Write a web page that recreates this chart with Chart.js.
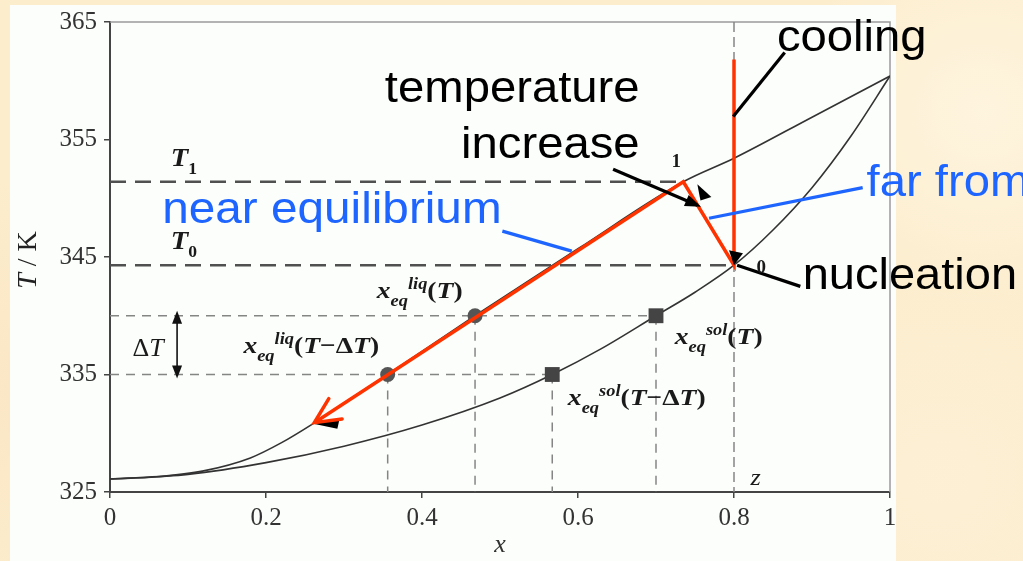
<!DOCTYPE html>
<html>
<head>
<meta charset="utf-8">
<script src="https://cdn.jsdelivr.net/npm/chart.js@4.4.1/dist/chart.umd.min.js"></script>
<style>
  html, body { margin: 0; padding: 0; }
  body {
    width: 1023px; height: 561px; position: relative; overflow: hidden;
    background: #fcedcd;
    background-image:
      radial-gradient(circle at 96% 20%, rgba(255,248,230,0.7), transparent 18%),
      radial-gradient(circle at 3% 70%, rgba(250,226,190,0.6), transparent 20%),
      radial-gradient(circle at 92% 85%, rgba(253,240,214,0.8), transparent 22%);
  }
  #paper { position: absolute; left: 10px; top: 5px; width: 886px; height: 556px; background: #fbfefa; }
  #c { position: absolute; left: 0; top: 0; }
</style>
</head>
<body>
<div id="paper"></div>
<canvas id="c" width="1023" height="561"></canvas>
<script>
// axis ticks
const xTicks = [0, 0.2, 0.4, 0.6, 0.8, 1];
const yTicks = [325, 335, 345, 355, 365];

// liquidus (upper) and solidus (lower) curves
const liqX = [0, 0.06, 0.12, 0.18, 0.22, 0.26, 0.31, 0.356, 0.468, 0.6, 0.735, 0.8, 0.9, 1];
const liqT = [326.1, 326.3, 326.8, 327.9, 329.2, 330.8, 333.0, 335, 340, 345.7, 351.4, 353.4, 356.9, 360.4];
const solX = [0, 0.1, 0.2, 0.3, 0.4, 0.5, 0.567, 0.63, 0.70, 0.75, 0.8, 0.85, 0.9, 0.95, 1];
const solT = [326.1, 326.5, 327.5, 328.9, 330.7, 333.0, 335, 337.2, 340, 342.0, 344.3, 347.3, 350.9, 355.3, 360.4];

// marked equilibrium points at T and T - dT
const liqMarkX = [0.356, 0.468];
const liqMarkT = [335, 340];
const solMarkX = [0.567, 0.70];
const solMarkT = [335, 340];

// levels T1, T0 and overall composition z
const T1 = 351.4;
const T0 = 344.3;
const zX = 0.8;

// red path: cooling -> nucleation (0) -> point 1 -> down the liquidus
const pathX = [0.8, 0.8, 0.735, 0.262];
const pathT = [361.8, 344.3, 351.4, 330.9];

// leader lines for the big labels
const leaders = [
  { xs: [0.799, 0.865], ys: [356.95, 362.4], color: '#000' },   // cooling
  { xs: [0.645, 0.753], ys: [352.46, 349.4], color: '#000' },   // temperature increase
  { xs: [0.768, 0.965], ys: [348.3, 350.9], color: '#1e64ff' }, // far from
  { xs: [0.503, 0.592], ys: [347.2, 345.5], color: '#1e64ff' }, // near equilibrium
  { xs: [0.804, 0.885], ys: [344.3, 342.5], color: '#000' }     // nucleation
];

const pts = (xs, ys) => xs.map((v, i) => ({ x: v, y: ys[i] }));
const SERIF = '"Liberation Serif", "Times New Roman", serif';
const SANS = '"Liberation Sans", Arial, sans-serif';

const longDash = { borderColor: '#505050', borderWidth: 2.5, borderDash: [16, 9] };
const thinDash = { borderColor: '#858585', borderWidth: 1.5, borderDash: [9, 7] };
const line = (data, style, order) => Object.assign({ data, showLine: true, pointRadius: 0, tension: 0, fill: false, order }, style);

const datasets = [];
datasets.push(line(pts(liqX, liqT), { borderColor: '#333', borderWidth: 1.6, cubicInterpolationMode: 'monotone' }, 9));
datasets.push(line(pts(solX, solT), { borderColor: '#333', borderWidth: 1.6, cubicInterpolationMode: 'monotone' }, 9));
// guides
datasets.push(line([{ x: 0, y: T1 }, { x: pathX[2], y: T1 }], longDash, 8));
datasets.push(line([{ x: 0, y: T0 }, { x: zX, y: T0 }], longDash, 8));
datasets.push(line([{ x: 0, y: solMarkT[1] }, { x: solMarkX[1], y: solMarkT[1] }], thinDash, 8));
datasets.push(line([{ x: 0, y: solMarkT[0] }, { x: solMarkX[0], y: solMarkT[0] }], thinDash, 8));
liqMarkX.forEach((v, i) => datasets.push(line([{ x: v, y: liqMarkT[i] }, { x: v, y: 325 }], thinDash, 8)));
solMarkX.forEach((v, i) => datasets.push(line([{ x: v, y: solMarkT[i] }, { x: v, y: 325 }], thinDash, 8)));
datasets.push(line([{ x: zX, y: 365 }, { x: zX, y: 325 }], { borderColor: '#858585', borderWidth: 1.5, borderDash: [10, 5] }, 8));
// markers
datasets.push({ data: pts(liqMarkX, liqMarkT), pointStyle: 'circle', pointRadius: 7.5, pointBackgroundColor: '#555', pointBorderWidth: 0, order: 6 });
datasets.push({ data: pts(solMarkX, solMarkT), pointStyle: 'rect', pointRadius: 10.5, pointBackgroundColor: '#444', pointBorderWidth: 0, order: 6 });
// red path
const redIndex = datasets.length;
datasets.push(line(pts(pathX, pathT), { borderColor: '#ff3300', borderWidth: 3.5, borderJoinStyle: 'miter' }, 4));
// leaders
leaders.forEach(l => datasets.push(line(pts(l.xs, l.ys), { borderColor: l.color, borderWidth: 3.2 }, 2)));

function sx(ctx, str, x, y, font, color, scale, align) {
  ctx.save();
  ctx.font = font;
  ctx.fillStyle = color;
  ctx.textBaseline = 'alphabetic';
  const w = ctx.measureText(str).width * scale;
  ctx.translate(align === 'right' ? x - w : x, y);
  ctx.scale(scale, 1);
  ctx.fillText(str, 0, 0);
  ctx.restore();
}

function rich(ctx, parts, x, y, scale) {
  ctx.save();
  ctx.translate(x, y);
  ctx.scale(scale, 1);
  ctx.fillStyle = '#1a1a1a';
  ctx.textBaseline = 'alphabetic';
  let cx = 0;
  for (const [s, f, dy] of parts) {
    ctx.font = f;
    ctx.fillText(s, cx, dy || 0);
    cx += ctx.measureText(s).width;
  }
  ctx.restore();
}

function tri(ctx, pts) {
  ctx.beginPath();
  ctx.moveTo(pts[0][0], pts[0][1]);
  ctx.lineTo(pts[1][0], pts[1][1]);
  ctx.lineTo(pts[2][0], pts[2][1]);
  ctx.closePath();
  ctx.fill();
}

const BI = 'bold italic 24px ' + SERIF;
const B = 'bold 24px ' + SERIF;
const SBI = 'bold italic 16px ' + SERIF;
const argT = [['(', B], ['T', BI], [')', B]];
const argTdT = [['(', B], ['T', BI], ['\u2212', B], ['\u0394', B], ['T', BI], [')', B]];
const xeq = (sup, arg) => [['x', BI], ['eq', SBI, 8], [sup, SBI, -9]].concat(arg);

const decor = {
  id: 'decor',
  beforeDatasetsDraw(chart) {
    const { ctx, chartArea: a } = chart;
    ctx.save();
    ctx.strokeStyle = '#9a9a9a';
    ctx.lineWidth = 1.5;
    ctx.beginPath();
    ctx.moveTo(a.left, a.top);
    ctx.lineTo(a.right, a.top);
    ctx.lineTo(a.right, a.bottom);
    ctx.stroke();
    ctx.restore();
  },
  afterDatasetsDraw(chart) {
    const { ctx, chartArea: a, scales: { x, y } } = chart;
    const px = v => x.getPixelForValue(v), py = v => y.getPixelForValue(v);
    ctx.save();

    // original black arrow tips
    ctx.fillStyle = '#000';
    tri(ctx, [[px(pathX[3]) - 1, py(pathT[3]) + 1], [px(pathX[3]) + 25, py(pathT[3]) - 3], [px(pathX[3]) + 23, py(pathT[3]) + 6]]);
    tri(ctx, [[px(zX), py(T0)], [px(zX) - 5, py(T0) - 15], [px(zX) + 9, py(T0) - 12]]);
    tri(ctx, [[px(0.771), py(350.1)], [px(0.753), py(351.2)], [px(0.757), py(349.8)]]);

    // red open arrow head at the end of the path
    const m = chart.getDatasetMeta(redIndex).data;
    const tip = m[m.length - 1], prev = m[m.length - 2];
    const ang = Math.atan2(prev.y - tip.y, prev.x - tip.x);
    ctx.strokeStyle = '#ff3300';
    ctx.lineWidth = 3.5;
    ctx.lineCap = 'round';
    ctx.beginPath();
    ctx.moveTo(tip.x + 28 * Math.cos(ang - 0.45), tip.y + 28 * Math.sin(ang - 0.45));
    ctx.lineTo(tip.x, tip.y);
    ctx.lineTo(tip.x + 28 * Math.cos(ang + 0.45), tip.y + 28 * Math.sin(ang + 0.45));
    ctx.stroke();

    // filled head on the "temperature increase" leader
    const l = leaders[1];
    const ex = px(l.xs[1]), ey = py(l.ys[1]);
    const la = Math.atan2(ey - py(l.ys[0]), ex - px(l.xs[0]));
    ctx.fillStyle = '#000';
    tri(ctx, [[ex + 4 * Math.cos(la), ey + 4 * Math.sin(la)],
              [ex - 12 * Math.cos(la) + 6 * Math.sin(la), ey - 12 * Math.sin(la) - 6 * Math.cos(la)],
              [ex - 12 * Math.cos(la) - 6 * Math.sin(la), ey - 12 * Math.sin(la) + 6 * Math.cos(la)]]);

    // delta T double arrow
    const dx = px(0.086);
    ctx.strokeStyle = '#111';
    ctx.lineWidth = 1.6;
    ctx.lineCap = 'butt';
    ctx.beginPath();
    ctx.moveTo(dx, py(340) + 4);
    ctx.lineTo(dx, py(335) - 4);
    ctx.stroke();
    ctx.fillStyle = '#111';
    tri(ctx, [[dx, py(340) - 5], [dx - 5, py(340) + 8], [dx + 5, py(340) + 8]]);
    tri(ctx, [[dx, py(335) + 4], [dx - 5, py(335) - 9], [dx + 5, py(335) - 9]]);

    // figure labels
    rich(ctx, [['T', 'bold italic 26px ' + SERIF], ['1', 'bold 16px ' + SERIF, 8]], px(0.078), py(T1) - 16, 1.1);
    rich(ctx, [['T', 'bold italic 26px ' + SERIF], ['0', 'bold 16px ' + SERIF, 8]], px(0.078), py(T0) - 16, 1.1);
    rich(ctx, [['\u0394', '26px ' + SERIF], ['T', 'italic 26px ' + SERIF]], px(0.029), py(336.6), 1.0);
    rich(ctx, xeq('liq', argT), px(0.342), py(341.5), 1.15);
    rich(ctx, xeq('liq', argTdT), px(0.171), py(336.8), 1.15);
    rich(ctx, xeq('sol', argT), px(0.724), py(337.6), 1.15);
    rich(ctx, xeq('sol', argTdT), px(0.587), py(332.4), 1.15);
    rich(ctx, [['1', 'bold 19px ' + SERIF]], px(0.72), py(352.7), 1.0);
    rich(ctx, [['0', 'bold 19px ' + SERIF]], px(0.829), py(343.6), 1.0);
    rich(ctx, [['z', 'italic 24px ' + SERIF]], px(0.821), py(325.6), 1.1);

    // y axis title
    ctx.save();
    ctx.translate(29, (a.top + a.bottom) / 2 + 3);
    ctx.rotate(-Math.PI / 2);
    ctx.fillStyle = '#222';
    ctx.textBaseline = 'middle';
    const tp = [['T', 'italic 28px ' + SERIF], [' / ', '28px ' + SERIF], ['K', '28px ' + SERIF]];
    let tw = 0;
    tp.forEach(([s, f]) => { ctx.font = f; tw += ctx.measureText(s).width; });
    let cx = -tw / 2;
    tp.forEach(([s, f]) => { ctx.font = f; ctx.fillText(s, cx, 0); cx += ctx.measureText(s).width; });
    ctx.restore();

    // big annotation labels
    const F = '45px ' + SANS;
    sx(ctx, 'cooling', px(0.855), py(362.5), F, '#000', 1.05);
    sx(ctx, 'temperature', px(0.679), py(358.2), F, '#000', 1.05, 'right');
    sx(ctx, 'increase', px(0.679), py(353.4), F, '#000', 1.05, 'right');
    sx(ctx, 'far from', px(0.970), py(350.2), F, '#1e64ff', 1.05);
    sx(ctx, 'near equilibrium', px(0.067), py(347.9), F, '#1e64ff', 1.06);
    sx(ctx, 'nucleation', px(0.888), py(342.3), F, '#000', 1.045);

    ctx.restore();
  }
};

new Chart(document.getElementById('c'), {
  type: 'scatter',
  data: { datasets },
  options: {
    responsive: false,
    animation: false,
    events: [],
    layout: { padding: { left: 0, right: 133, top: 20, bottom: 0 } },
    plugins: { legend: { display: false }, tooltip: { enabled: false } },
    scales: {
      x: {
        type: 'linear', min: 0, max: 1,
        afterBuildTicks: s => { s.ticks = xTicks.map(v => ({ value: v })); },
        afterFit: s => { s.height = 69; },
        ticks: { font: { family: SERIF, size: 25 }, color: '#333', padding: 5, maxRotation: 0, callback: v => String(v) },
        grid: { drawOnChartArea: false, tickLength: 6, color: '#444', lineWidth: 1.5 },
        border: { color: '#444', width: 2 },
        title: { display: true, text: 'x', color: '#333', font: { family: SERIF, size: 26, style: 'italic' }, padding: { top: -2, bottom: 0 } }
      },
      y: {
        type: 'linear', min: 325, max: 365,
        afterBuildTicks: s => { s.ticks = yTicks.map(v => ({ value: v })); },
        afterFit: s => { s.width = 110; },
        ticks: { font: { family: SERIF, size: 25 }, color: '#333', padding: 7 },
        grid: { drawOnChartArea: false, tickLength: 6, color: '#444', lineWidth: 1.5 },
        border: { color: '#444', width: 2 }
      }
    }
  },
  plugins: [decor]
});
</script>
</body>
</html>
